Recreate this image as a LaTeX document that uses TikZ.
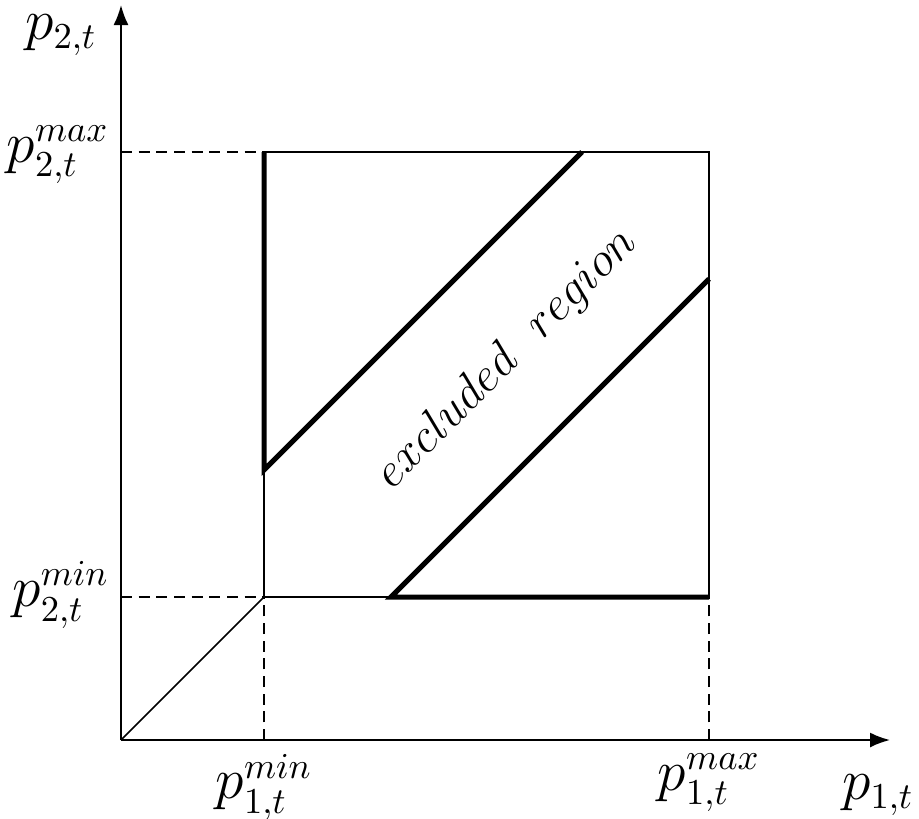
\documentclass[tikz,border=0pt]{standalone}
\usepackage{amsmath,amssymb}
\usetikzlibrary{arrows.meta,positioning}
\tikzset{
  axisline/.style={line width=0.6pt,-{Latex[length=6pt,width=4.5pt]}},
  thinline/.style={line width=0.45pt},
  boundline/.style={line width=1.5pt,line join=miter},
  guideline/.style={line width=0.45pt,dash pattern=on 3.3pt off 2pt},
  ticklabel/.style={font=\fontsize{16}{19}\selectfont,inner sep=1pt},
  regionlabel/.style={font=\fontsize{15.5}{18}\selectfont,inner sep=1pt,rotate=45}
}

\begin{document}
\begin{tikzpicture}[x=0.3pt,y=0.3pt]
  \useasboundingbox (-121,-78) rectangle (798,740);
  % axes
  \coordinate (origin) at (0,0);
  \coordinate (xend) at (769,0);
  \coordinate (yend) at (0,735);
  \draw[axisline] (origin) -- (xend);
  \draw[axisline] (origin) -- (yend);
  % bounds on the axes
  \coordinate (xmin) at (143,0);
  \coordinate (xmax) at (588,0);
  \coordinate (ymin) at (0,143);
  \coordinate (ymax) at (0,588);
  % corners of the box
  \coordinate (lowleft) at (143,143);
  \coordinate (lowright) at (588,143);
  \coordinate (upright) at (588,588);
  \coordinate (upleft) at (143,588);
  % ends of the two boundary lines
  \coordinate (leftcut) at (143,270);
  \coordinate (topcut) at (461,588);
  \coordinate (bottomcut) at (270,143);
  \coordinate (rightcut) at (588,461);
  \draw[guideline] (ymax) -- (upleft);
  \draw[guideline] (ymin) -- (lowleft);
  \draw[guideline] (xmin) -- (lowleft);
  \draw[guideline] (xmax) -- (lowright);
  \draw[thinline] (lowleft) rectangle (upright);
  \draw[thinline] (origin) -- (lowleft);
  \draw[boundline] (upleft) -- (leftcut) -- (topcut);
  \draw[boundline] (rightcut) -- (bottomcut) -- (lowright);
  % labels
  \node[ticklabel,anchor=east] (p2maxlab) at (-8,585) {$p_{2,t}^{max}$};
  \node[ticklabel,anchor=east] (p2minlab) at (-8,145) {$p_{2,t}^{min}$};
  \node[ticklabel,anchor=north] (p1minlab) at (143,-10) {$p_{1,t}^{min}$};
  \node[ticklabel,anchor=north] (p1maxlab) at (588,-10) {$p_{1,t}^{max}$};
  \node[ticklabel] (p1lab) at (757,-55) {$p_{1,t}$};
  \node[ticklabel] (p2lab) at (-60,705) {$p_{2,t}$};
  \node[regionlabel] (exclabel) at (386,381) {$excluded\ \ region$};
\end{tikzpicture}
\end{document}
